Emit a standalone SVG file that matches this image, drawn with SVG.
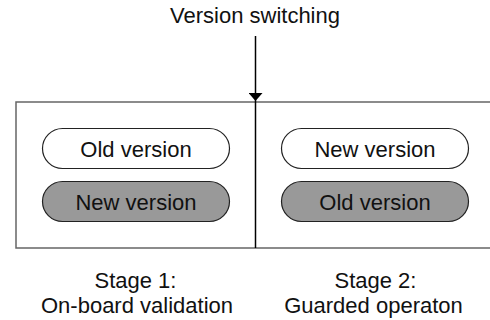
<svg xmlns="http://www.w3.org/2000/svg" width="490" height="320" viewBox="0 0 490 320">
  <style>
    text { font-family: "Liberation Sans", Arial, sans-serif; font-size: 22px; fill: #111; text-anchor: middle; }
    .pill { stroke: #222; stroke-width: 1.2; }
    .light { fill: #ffffff; }
    .dark { fill: #999999; }
    .frame { fill: none; stroke: #666; stroke-width: 1.5; }
    .wire { stroke: #000; stroke-width: 1.5; fill: none; }
  </style>
  <defs>
    <marker id="arrow" viewBox="0 0 8 14" refX="8" refY="7" markerWidth="8" markerHeight="14" markerUnits="userSpaceOnUse" orient="auto">
      <path d="M0,0 L8,7 L0,14 Z" fill="#000"/>
    </marker>
  </defs>
  <rect width="490" height="320" fill="#fff"/>

  <!-- outer frame, open on the right -->
  <path class="frame" d="M492,102 H16 V248 H492"/>

  <g id="connectors">
    <line class="wire" x1="255.5" y1="36" x2="255.5" y2="101" marker-end="url(#arrow)"/>
    <line class="wire" x1="255.5" y1="101" x2="255.5" y2="248"/>
  </g>

  <g id="title">
    <text x="255" y="23">Version switching</text>
  </g>

  <g id="stage1-old">
    <rect class="pill light" x="42.5" y="128.5" width="187" height="40" rx="20"/>
    <text x="136" y="156.5">Old version</text>
  </g>
  <g id="stage1-new">
    <rect class="pill dark" x="42.5" y="181.5" width="187" height="40" rx="20"/>
    <text x="136" y="209.5">New version</text>
  </g>
  <g id="stage2-new">
    <rect class="pill light" x="281.5" y="128.5" width="187" height="40" rx="20"/>
    <text x="375" y="156.5">New version</text>
  </g>
  <g id="stage2-old">
    <rect class="pill dark" x="281.5" y="181.5" width="187" height="40" rx="20"/>
    <text x="375" y="209.5">Old version</text>
  </g>

  <g id="stage1-label">
    <text x="135.5" y="288">Stage 1:</text>
    <text x="137" y="313">On-board validation</text>
  </g>
  <g id="stage2-label">
    <text x="375.5" y="288">Stage 2:</text>
    <text x="373.5" y="313">Guarded operaton</text>
  </g>
</svg>
